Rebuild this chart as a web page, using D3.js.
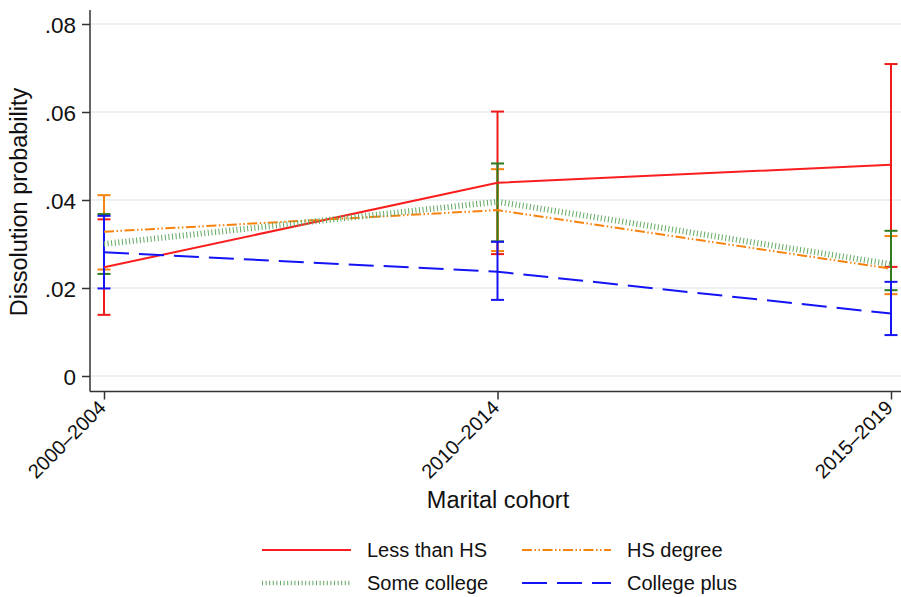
<!DOCTYPE html>
<html>
<head>
<meta charset="utf-8">
<script src="https://cdn.jsdelivr.net/npm/d3@7"></script>
<style>
    body { margin: 0; background: #fff; }
    text { font-family: "Liberation Sans", Arial, sans-serif; fill: #111; }
</style>
</head>
<body>
<svg id="chart" width="901" height="597"></svg>
<script>
//Cohorts along the x axis.
var cohorts = ["2000\u20132004", "2010\u20132014", "2015\u20132019"];

//Point estimates per education group.
var lessHS = [0.0247, 0.0439, 0.0480];
var hsDegree = [0.0328, 0.0377, 0.0244];
var someCollege = [0.0300, 0.0396, 0.0254];
var collegePlus = [0.0281, 0.0237, 0.0142];

//Lower and upper confidence bounds per group.
var lessHSLo = [0.0139, 0.0277, 0.0248];
var lessHSHi = [0.0356, 0.0601, 0.0709];
var hsDegreeLo = [0.0242, 0.0284, 0.0186];
var hsDegreeHi = [0.0411, 0.0470, 0.0318];
var someCollegeLo = [0.0232, 0.0306, 0.0195];
var someCollegeHi = [0.0368, 0.0483, 0.0330];
var collegePlusLo = [0.0199, 0.0173, 0.0093];
var collegePlusHi = [0.0364, 0.0305, 0.0214];

var yTicks = [0, 0.02, 0.04, 0.06, 0.08];
var yTickLabels = ["0", ".02", ".04", ".06", ".08"];

var groups = [
    { name: "Less than HS", values: lessHS, lo: lessHSLo, hi: lessHSHi,
      color: "#fa1e1e", bar: "#f01a1a", dash: null, width: 2 },
    { name: "HS degree", values: hsDegree, lo: hsDegreeLo, hi: hsDegreeHi,
      color: "#f7830f", bar: "#f7830f", dash: "10,2.5,1.5,2.5,1.5,2.5", width: 2 },
    { name: "Some college", values: someCollege, lo: someCollegeLo, hi: someCollegeHi,
      color: "#62a862", bar: "#2f7a1e", dash: "1,2.6", width: 6 },
    { name: "College plus", values: collegePlus, lo: collegePlusLo, hi: collegePlusHi,
      color: "#1414f5", bar: "#1414f5", dash: "25,10", width: 2 }
];

var svg = d3.select("#chart");

var x = d3.scalePoint().domain(cohorts).range([104, 891]);
var y = d3.scaleLinear().domain([0, 0.08]).range([376, 24]);

//Gridlines.
svg.selectAll(".grid")
    .data(yTicks)
    .enter()
    .append("line")
    .attr("x1", 91)
    .attr("x2", 901)
    .attr("y1", function (d) { return y(d); })
    .attr("y2", function (d) { return y(d); })
    .style("stroke", "#e6eef1")
    .style("stroke-width", 1.5);

//Y axis.
var yAxis = d3.axisLeft(y)
    .tickValues(yTicks)
    .tickFormat(function (d, i) { return yTickLabels[i]; })
    .tickSize(8)
    .tickPadding(6);

svg.append("g")
    .attr("transform", "translate(90,0)")
    .call(yAxis)
    .call(function (g) {
        g.select(".domain").attr("d", "M0,10V391.5").style("stroke", "#333").style("stroke-width", 1.5);
        g.selectAll(".tick line").style("stroke", "#333").style("stroke-width", 1.5);
        g.selectAll(".tick text").style("font-size", "22.5px").attr("font-family", null).attr("dy", "0.36em");
    });

//X axis.
var xAxis = d3.axisBottom(x).tickSize(8).tickFormat("");

svg.append("g")
    .attr("transform", "translate(0,391.5)")
    .call(xAxis)
    .call(function (g) {
        g.select(".domain").attr("d", "M90,0H901").style("stroke", "#333").style("stroke-width", 1.5);
        g.selectAll(".tick line").style("stroke", "#333").style("stroke-width", 1.5);
    });

svg.selectAll(".xlab")
    .data(cohorts)
    .enter()
    .append("text")
    .attr("class", "xlab")
    .attr("text-anchor", "end")
    .attr("transform", function (d) {
        return "translate(" + (x(d) + 3) + ",409) rotate(-45)";
    })
    .style("font-size", "20px")
    .text(function (d) { return d; });

//Axis titles.
svg.append("text")
    .attr("text-anchor", "middle")
    .attr("transform", "translate(27,202) rotate(-90)")
    .style("font-size", "23.5px")
    .text("Dissolution probability");

svg.append("text")
    .attr("x", 498)
    .attr("y", 508)
    .attr("text-anchor", "middle")
    .style("font-size", "23.5px")
    .text("Marital cohort");

//Error bars first, group by group.
groups.forEach(function (g) {
    var bars = svg.append("g");
    cohorts.forEach(function (c, i) {
        var cx = x(c);
        bars.append("line")
            .attr("x1", cx).attr("x2", cx)
            .attr("y1", y(g.lo[i])).attr("y2", y(g.hi[i]))
            .style("stroke", g.bar).style("stroke-width", 2);
        [g.lo[i], g.hi[i]].forEach(function (v) {
            bars.append("line")
                .attr("x1", cx - 6.5).attr("x2", cx + 6.5)
                .attr("y1", y(v)).attr("y2", y(v))
                .style("stroke", g.bar).style("stroke-width", 2);
        });
    });
});

//Then the lines through the estimates.
groups.forEach(function (g) {
    var line = d3.line()
        .x(function (d, i) { return x(cohorts[i]); })
        .y(function (d) { return y(d); });

    svg.append("path")
        .datum(g.values)
        .attr("d", line)
        .style("fill", "none")
        .style("stroke", g.color)
        .style("stroke-width", g.width)
        .style("stroke-dasharray", g.dash);
});

//Legend.
var legendX = [262, 522];
var legendY = [550, 583];

groups.forEach(function (g, i) {
    var lx = legendX[i % 2],
        ly = legendY[Math.floor(i / 2)];

    svg.append("line")
        .attr("x1", lx).attr("x2", lx + 89)
        .attr("y1", ly).attr("y2", ly)
        .style("stroke", g.color)
        .style("stroke-width", g.width === 6 ? 4.5 : g.width)
        .style("stroke-dasharray", g.dash);

    svg.append("text")
        .attr("x", lx + 105)
        .attr("y", ly)
        .attr("dy", "0.36em")
        .style("font-size", "20px")
        .text(g.name);
});
</script>
</body>
</html>
